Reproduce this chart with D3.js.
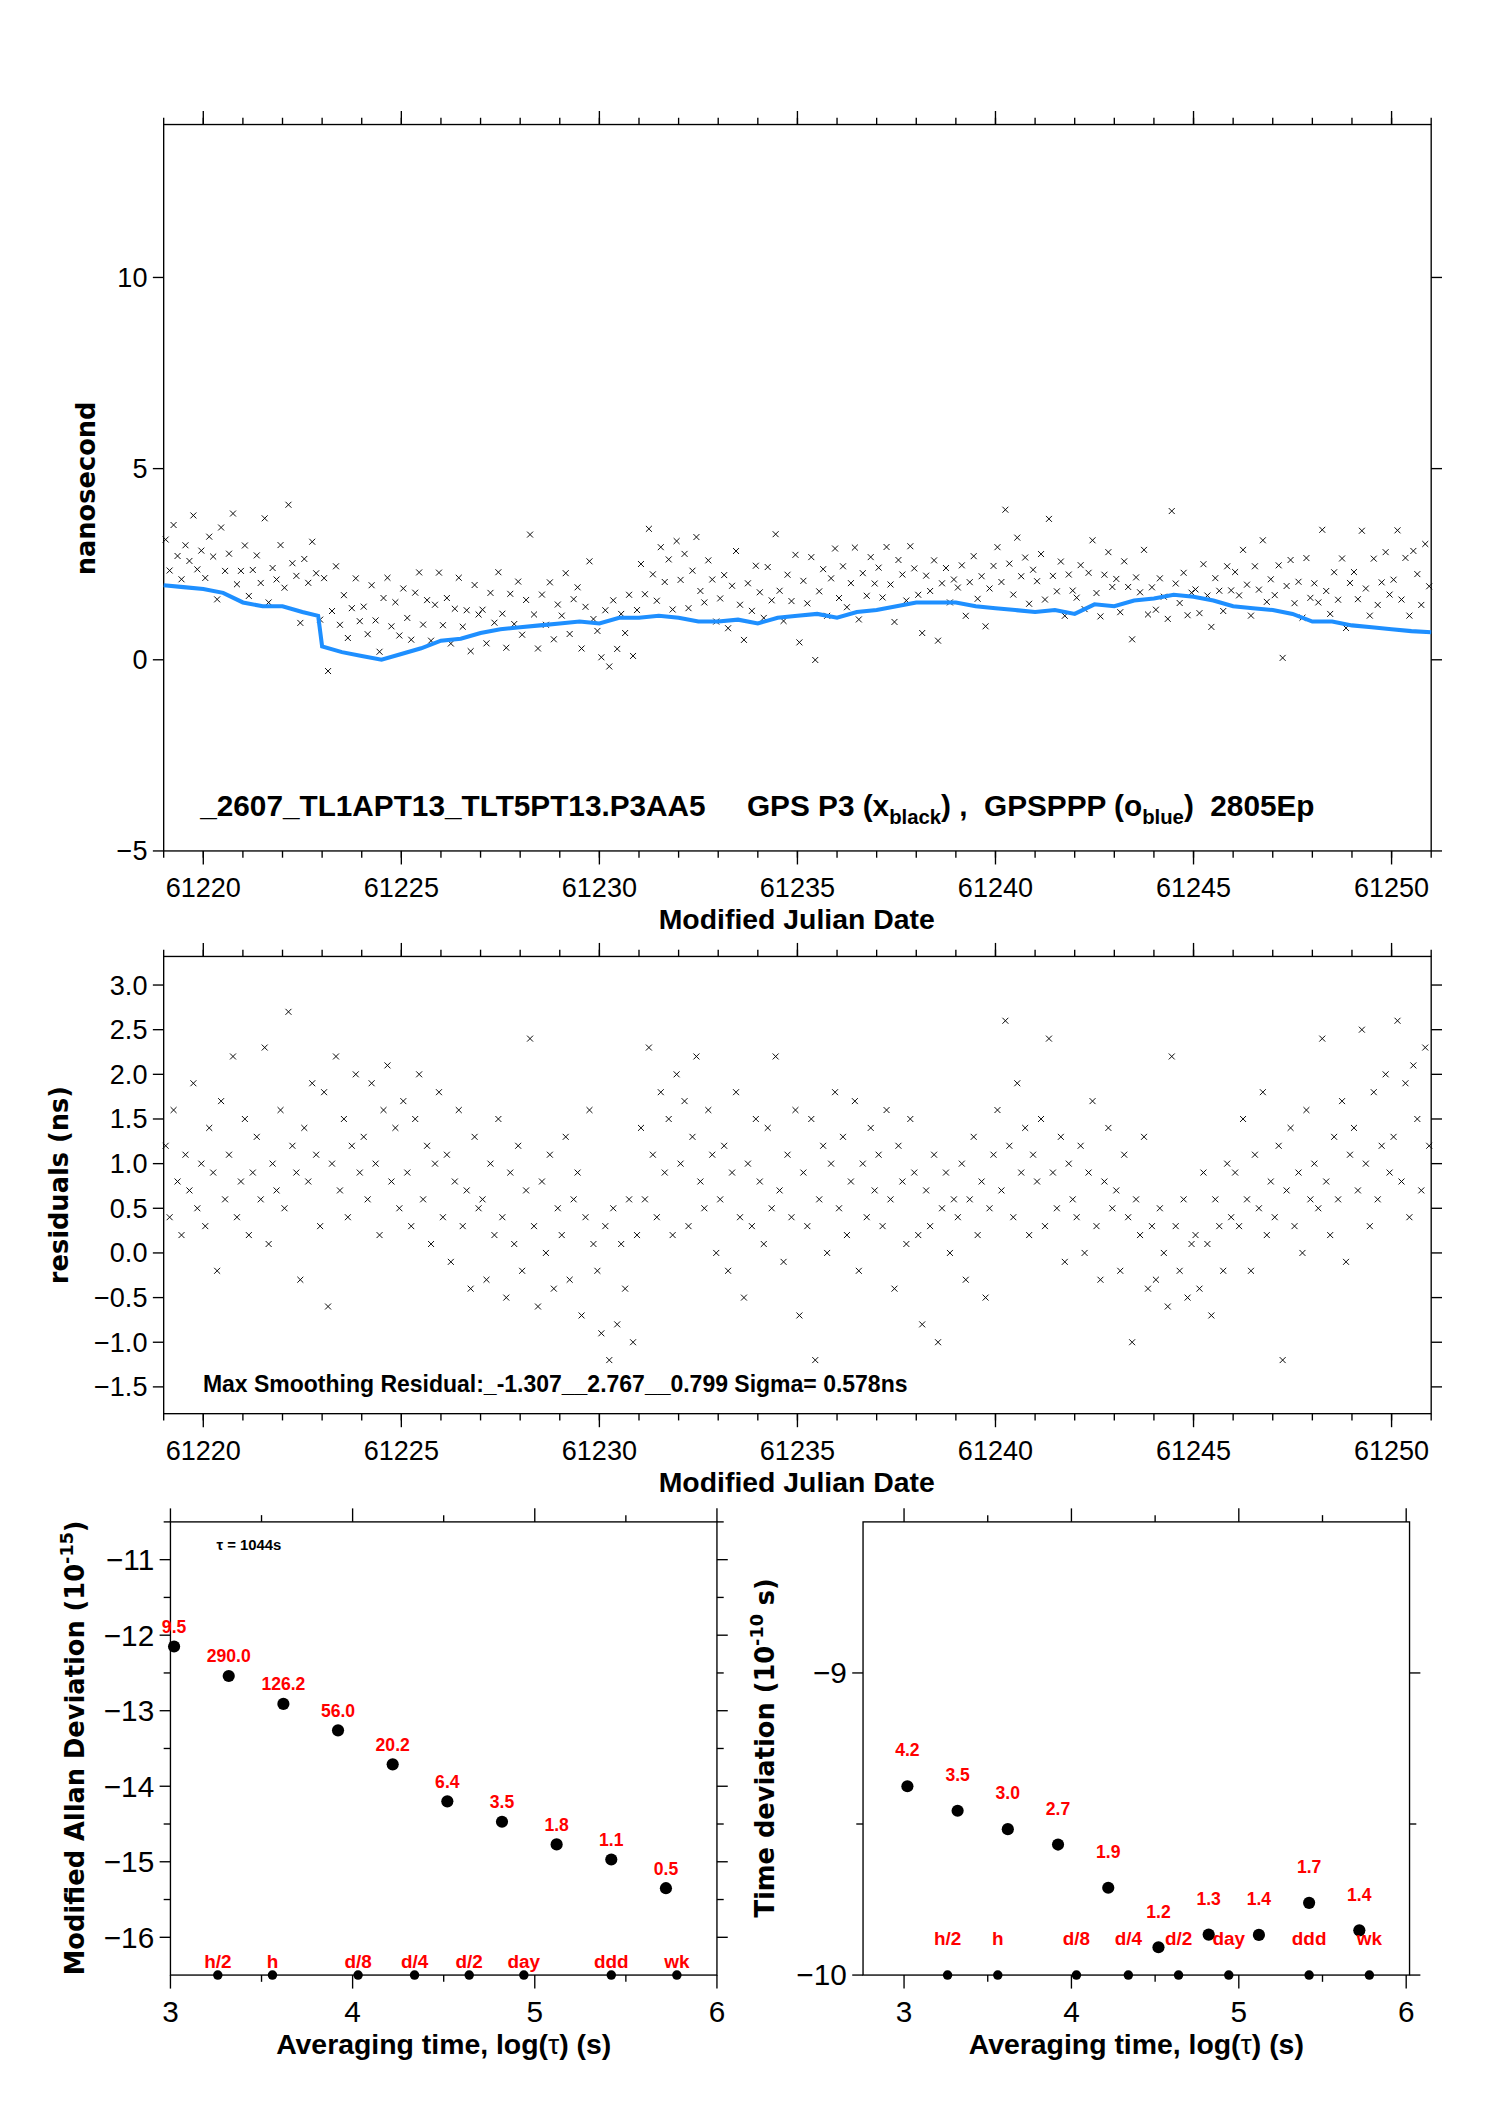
<!DOCTYPE html>
<html><head><meta charset="utf-8">
<script src="https://cdn.jsdelivr.net/npm/d3@7"></script>
<style>body{margin:0;background:#fff}</style>
</head><body>
<svg id="chart" width="1488" height="2105" viewBox="0 0 1100 1556"></svg>
<script>
// smoothed GPSPPP curve (blue), MJD / ns
let blueT = [61219,61219.5,61220,61220.5,61221,61221.5,61222,61222.5,61222.9,61223,61223.5,61224,61224.5,61225,61225.5,61226,61226.5,61227,61227.5,61228,61228.5,61229,61229.5,61230,61230.5,61231,61231.5,61232,61232.5,61233,61233.5,61234,61234.5,61235,61235.5,61236,61236.5,61237,61237.5,61238,61238.5,61239,61239.5,61240,61240.5,61241,61241.5,61242,61242.5,61243,61243.5,61244,61244.5,61245,61245.5,61246,61246.5,61247,61247.5,61248,61248.5,61249,61249.5,61250,61250.5,61251];
let blueV = [1.95,1.9,1.85,1.75,1.5,1.4,1.4,1.25,1.15,0.35,0.2,0.1,0.0,0.15,0.3,0.5,0.55,0.7,0.8,0.85,0.9,0.95,1.0,0.95,1.1,1.1,1.15,1.1,1.0,1.0,1.05,0.95,1.1,1.15,1.2,1.1,1.25,1.3,1.4,1.5,1.5,1.5,1.4,1.35,1.3,1.25,1.3,1.2,1.45,1.4,1.55,1.6,1.7,1.65,1.55,1.4,1.35,1.3,1.2,1.0,1.0,0.9,0.85,0.8,0.75,0.72];
// residuals (ns), 10 samples per day starting 61219
let residuals = [
1.2,0.4,1.6,0.8,0.2,1.1,0.7,1.9,0.5,1.0,
0.3,1.4,0.9,-0.2,1.7,0.6,1.1,2.2,0.4,0.8,
1.5,0.2,0.9,1.3,0.6,2.3,0.1,1.0,0.7,1.6,
0.5,2.7,1.2,0.9,-0.3,1.4,0.8,1.9,1.1,0.3,
1.8,-0.6,1.0,2.2,0.7,1.5,0.4,1.2,2.0,0.9,
1.3,0.6,1.9,1.0,0.2,1.6,2.1,0.8,1.4,0.5,
1.7,0.9,0.3,1.5,2.0,0.6,1.2,0.1,1.0,1.8,
0.4,1.1,-0.1,0.8,1.6,0.3,0.7,-0.4,1.3,0.5,
0.6,-0.3,1.0,0.2,1.5,0.4,-0.5,0.9,0.1,1.2,
-0.2,0.7,2.4,0.3,-0.6,0.8,0.0,1.1,-0.4,0.5,
0.2,1.3,-0.3,0.6,0.9,-0.7,0.4,1.6,0.1,-0.2,
-0.9,0.3,-1.2,0.5,-0.8,0.1,-0.4,0.6,-1.0,0.2,
1.4,0.6,2.3,1.1,0.4,1.8,0.9,1.5,0.2,2.0,
1.0,1.7,0.3,1.3,2.2,0.8,0.5,1.6,1.1,0.0,
0.6,1.2,-0.2,0.9,1.8,0.4,-0.5,1.0,0.3,1.5,
0.8,0.1,1.4,0.5,2.2,0.7,-0.1,1.1,0.4,1.6,
-0.7,0.9,0.3,1.5,-1.2,0.6,1.2,0.0,1.0,1.8,
0.5,1.3,0.2,0.8,1.7,-0.2,1.0,0.4,1.4,0.7,
1.1,0.3,1.6,0.6,-0.4,1.2,0.8,0.1,1.5,0.9,
0.2,-0.8,0.7,0.3,1.1,-1.0,0.5,0.9,0.0,0.6,
0.4,1.0,-0.3,0.6,1.3,0.2,0.8,-0.5,0.5,1.1,
1.6,0.7,2.6,1.2,0.4,1.9,0.9,1.4,0.2,1.1,
0.8,1.5,0.3,2.4,0.9,0.5,1.3,-0.1,1.0,0.6,
0.4,1.2,0.0,0.9,1.7,0.3,-0.3,0.8,1.4,0.5,
0.7,-0.2,1.1,0.4,-1.0,0.6,0.2,1.3,-0.4,0.3,
-0.3,0.5,0.0,-0.6,2.2,0.3,-0.2,0.6,-0.5,0.1,
0.2,-0.4,0.9,0.1,-0.7,0.6,0.3,-0.2,1.0,0.4,
0.9,0.3,1.5,0.6,-0.2,1.1,0.5,1.8,0.2,0.8,
0.4,1.2,-1.2,0.7,1.4,0.3,0.9,0.0,1.6,0.6,
1.0,0.5,2.4,0.8,0.2,1.3,0.6,1.7,-0.1,1.1,
1.4,0.7,2.5,1.0,0.3,1.8,0.6,1.2,2.0,0.9,
1.3,2.6,0.8,1.9,0.4,2.1,1.5,0.7,2.3,1.2];

// stability
let logTau = [3.02,3.32,3.62,3.92,4.22,4.52,4.82,5.12,5.42,5.72];
let madev = [-12.15,-12.54,-12.91,-13.26,-13.71,-14.2,-14.47,-14.77,-14.97,-15.35];
let madevLabels = ["9.5","290.0","126.2","56.0","20.2","6.4","3.5","1.8","1.1","0.5"];
let tdev = [-9.375,-9.456,-9.517,-9.568,-9.711,-9.908,-9.866,-9.867,-9.761,-9.852];
let tdevLabels = ["4.2","3.5","3.0","2.7","1.9","1.2","1.3","1.4","1.7","1.4"];
let markT = [3.26,3.56,4.03,4.34,4.64,4.94,5.42,5.78];
let markNames = ["h/2","h","d/8","d/4","d/2","day","ddd","wk"];

const svg = d3.select("#chart");
const narrow = "'Liberation Sans Narrow','Liberation Sans',sans-serif";

function frame(o) {
  let x = d3.scaleLinear().domain(o.xd).range([o.x0, o.x1]);
  let y = d3.scaleLinear().domain(o.yd).range([o.y1, o.y0]);
  let g = svg.append("g");
  g.append("rect").attr("x", o.x0).attr("y", o.y0).attr("width", o.x1-o.x0).attr("height", o.y1-o.y0)
    .attr("fill","none").attr("stroke","#000").attr("stroke-width",1);
  let tick = (x1,y1,x2,y2) => g.append("line").attr("x1",x1).attr("y1",y1).attr("x2",x2).attr("y2",y2).attr("stroke","#000").attr("stroke-width",1);
  o.xMinor.forEach(v => { tick(x(v),o.y0,x(v),o.y0-5); tick(x(v),o.y1,x(v),o.y1+5); });
  o.xMajor.forEach(v => {
    tick(x(v),o.y0,x(v),o.y0-10); tick(x(v),o.y1,x(v),o.y1+10);
    g.append("text").attr("x",x(v)).attr("y",o.y1+o.xlOff).attr("text-anchor","middle")
      .style("font-family",narrow).style("font-size",o.tfs+"px").text(v);
  });
  (o.yMinor||[]).forEach(v => { tick(o.x0,y(v),o.x0-5,y(v)); tick(o.x1,y(v),o.x1+5,y(v)); });
  o.yMajor.forEach(v => {
    tick(o.x0,y(v),o.x0-8,y(v)); tick(o.x1,y(v),o.x1+8,y(v));
    g.append("text").attr("x",o.x0-12).attr("y",y(v)).attr("dy","0.35em").attr("text-anchor","end")
      .style("font-family",narrow).style("font-size",o.tfs+"px").text(o.yfmt ? o.yfmt(v) : d3.format("")(v).replace("-","\u2212"));
  });
  return {x, y, g};
}

function crosses(g, pts, x, y) {
  g.selectAll(null).data(pts).join("path")
    .attr("d", d => { let px=x(d[0]), py=y(d[1]); return `M${px-2.2},${py-2.2}L${px+2.2},${py+2.2}M${px-2.2},${py+2.2}L${px+2.2},${py-2.2}`; })
    .attr("stroke","#000").attr("stroke-width",0.7).attr("fill","none");
}

const dayTicks = d3.range(61219, 61252);
const bigTicks = [61220,61225,61230,61235,61240,61245,61250];
const blueAt = d3.scaleLinear().domain(blueT).range(blueV);
const resT = residuals.map((r,i) => 61219 + i*0.1 + 0.05);

// panel 1: time series
let p1 = frame({x0:121,x1:1058,y0:92,y1:629,xd:[61219,61251],yd:[-5,14],xMinor:dayTicks,xMajor:bigTicks,
  yMajor:[-5,0,5,10],xlOff:34,tfs:20});
crosses(p1.g, residuals.map((r,i) => [resT[i], blueAt(resT[i]) + r]), p1.x, p1.y);
p1.g.append("path").datum(blueT.map((t,i)=>[t,blueV[i]]))
  .attr("d", d3.line().x(d=>p1.x(d[0])).y(d=>p1.y(d[1])))
  .attr("fill","none").attr("stroke","#1e8fff").attr("stroke-width",3);
let t1 = svg.append("text").attr("x",148).attr("y",603).style("font-family","'Liberation Sans',sans-serif")
  .style("font-weight","bold").style("font-size","22px").attr("xml:space","preserve");
t1.append("tspan").text("_2607_TL1APT13_TLT5PT13.P3AA5     GPS P3 (x");
t1.append("tspan").attr("dy",6).style("font-size","15px").text("black");
t1.append("tspan").attr("dy",-6).text(") ,  GPSPPP (o");
t1.append("tspan").attr("dy",6).style("font-size","15px").text("blue");
t1.append("tspan").attr("dy",-6).text(")  2805Ep");
svg.append("text").attr("x",589).attr("y",687).attr("text-anchor","middle").style("font-family","'Liberation Sans',sans-serif")
  .style("font-weight","bold").style("font-size","21px").text("Modified Julian Date");
svg.append("text").attr("transform","translate(70,361) rotate(-90)").attr("text-anchor","middle")
  .style("font-family","'DejaVu Sans',sans-serif").style("font-weight","bold").style("font-size","19px").text("nanosecond");

// panel 2: residuals
let p2 = frame({x0:121,x1:1058,y0:707,y1:1045,xd:[61219,61251],yd:[-1.8,3.32],xMinor:dayTicks,xMajor:bigTicks,
  yMajor:d3.range(-1.5,3.01,0.5),xlOff:34,tfs:20,yfmt:v=>d3.format(".1f")(v).replace("-","\u2212")});
crosses(p2.g, residuals.map((r,i) => [resT[i], r]), p2.x, p2.y);
svg.append("text").attr("x",150).attr("y",1029).style("font-family","'Liberation Sans',sans-serif")
  .style("font-weight","bold").style("font-size","17px").text("Max Smoothing Residual:_-1.307__2.767__0.799  Sigma= 0.578ns");
svg.append("text").attr("x",589).attr("y",1103).attr("text-anchor","middle").style("font-family","'Liberation Sans',sans-serif")
  .style("font-weight","bold").style("font-size","21px").text("Modified Julian Date");
svg.append("text").attr("transform","translate(50,876) rotate(-90)").attr("text-anchor","middle")
  .style("font-family","'DejaVu Sans',sans-serif").style("font-weight","bold").style("font-size","19px").text("residuals (ns)");

// stability panels
function stab(p, vals, labels, labOff, markY, markLabY) {
  p.g.selectAll(null).data(vals).join("circle").attr("cx",(d,i)=>p.x(logTau[i])).attr("cy",d=>p.y(d)).attr("r",4.5).attr("fill","#000");
  p.g.selectAll(null).data(vals).join("text").attr("x",(d,i)=>p.x(logTau[i])).attr("y",d=>p.y(d)-labOff)
    .attr("text-anchor","middle").style("font-family","'Liberation Sans',sans-serif").style("font-weight","bold")
    .style("font-size","13px").attr("fill","red").text((d,i)=>labels[i]);
  p.g.selectAll(null).data(markT).join("circle").attr("cx",d=>p.x(d)).attr("cy",p.y(markY)).attr("r",3.5).attr("fill","#000");
  p.g.selectAll(null).data(markT).join("text").attr("x",d=>p.x(d)).attr("y",markLabY)
    .attr("text-anchor","middle").style("font-family","'Liberation Sans',sans-serif").style("font-weight","bold")
    .style("font-size","14px").attr("fill","red").text((d,i)=>markNames[i]);
}
let p3 = frame({x0:126,x1:530,y0:1125,y1:1460,xd:[3,6],yd:[-16.5,-10.5],xMinor:[3.5,4.5,5.5],xMajor:[3,4,5,6],
  yMajor:[-16,-15,-14,-13,-12,-11],yMinor:[-15.5,-14.5,-13.5,-12.5,-11.5,-10.5],xlOff:35,tfs:22});
stab(p3, madev, madevLabels, 10, -16.5, 1455);
svg.append("text").attr("x",160).attr("y",1146).style("font-family","'Liberation Sans',sans-serif").style("font-weight","bold")
  .style("font-size","11px").text("\u03c4 = 1044s");
let p4 = frame({x0:638,x1:1042,y0:1125,y1:1460,xd:[2.755,6.02],yd:[-10,-8.5],xMinor:[3.5,4.5,5.5],xMajor:[3,4,5,6],
  yMajor:[-10,-9],yMinor:[-9.5],xlOff:35,tfs:22});
stab(p4, tdev, tdevLabels, 22, -10, 1438);
[[328,"Averaging time, log("],[840,"Averaging time, log("]].forEach(a => {
  let t = svg.append("text").attr("x",a[0]).attr("y",1518).attr("text-anchor","middle").style("font-family","'Liberation Sans',sans-serif")
    .style("font-weight","bold").style("font-size","21px");
  t.append("tspan").text(a[1]); t.append("tspan").style("font-weight","normal").text("\u03c4"); t.append("tspan").text(") (s)");
});
let yl3 = svg.append("text").attr("transform","translate(62,1292) rotate(-90)").attr("text-anchor","middle")
  .style("font-family","'DejaVu Sans',sans-serif").style("font-weight","bold").style("font-size","19px");
yl3.append("tspan").text("Modified Allan Deviation (10");
yl3.append("tspan").attr("dy",-8).style("font-size","13px").text("-15");
yl3.append("tspan").attr("dy",8).text(")");
let yl4 = svg.append("text").attr("transform","translate(572,1292) rotate(-90)").attr("text-anchor","middle")
  .style("font-family","'DejaVu Sans',sans-serif").style("font-weight","bold").style("font-size","19px");
yl4.append("tspan").text("Time deviation (10");
yl4.append("tspan").attr("dy",-8).style("font-size","13px").text("-10");
yl4.append("tspan").attr("dy",8).text(" s)");
</script>
</body></html>
